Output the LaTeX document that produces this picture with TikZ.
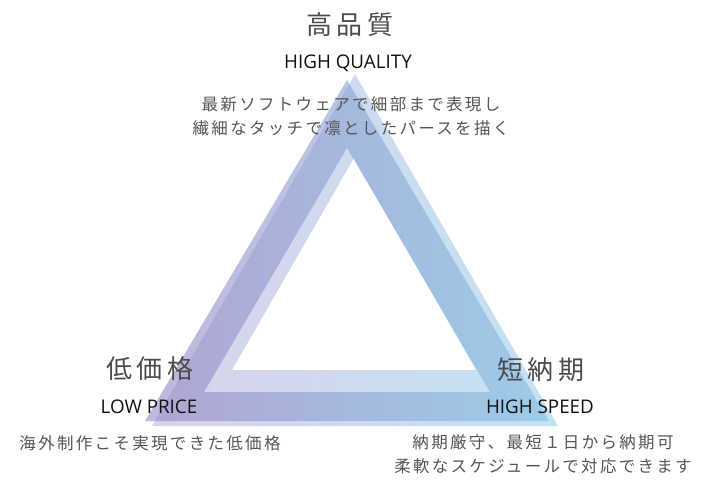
\documentclass[tikz,border=0pt]{standalone}
\usepackage{fontspec}
\newfontfamily\jph{Noto Sans CJK JP}[LetterSpace=16]
\newfontfamily\jpd{Noto Sans CJK JP}[LetterSpace=14]
\newfontfamily\lat{Open Sans}
\definecolor{headgray}{HTML}{4C4C4C}
\definecolor{descgray}{HTML}{555555}
\definecolor{labblack}{HTML}{111111}
\definecolor{lLeft}{HTML}{D9D2EA}
\definecolor{lRight}{HTML}{C2E3F4}
\definecolor{pLeft}{HTML}{9487C3}
\definecolor{pRight}{HTML}{82BDE2}
\tikzset{
  head/.style={inner sep=0pt, text=headgray, font=\jph\fontsize{26}{30}\selectfont},
  lab/.style={inner sep=0pt, text=labblack, font=\lat\fontsize{18.8}{22}\selectfont},
  desc/.style={inner sep=0pt, text=descgray, align=center, font=\jpd\fontsize{16.5}{24}\selectfont},
}
\begin{document}
\begin{tikzpicture}[x=1pt,y=-1pt]
\useasboundingbox (0,0) rectangle (705,490);
% back (light) ring
\shade[even odd rule, left color=lLeft, right color=lRight]
  (355,74) -- (152,426) -- (558,426) -- cycle
  (354,158) -- (232,370) -- (476,370) -- cycle;
% front ring
\shade[even odd rule, left color=pLeft, right color=pRight, fill opacity=0.6]
  (347,80) -- (145,421) -- (549,421) -- cycle
  (347,148) -- (204,392) -- (490,392) -- cycle;
% top
\node[head] (hq) at (350,25) {高品質};
\node[lab] (hqe) at (348,63) {HIGH QUALITY};
\node[desc] (hqd) at (351,116) {最新ソフトウェアで細部まで表現し\\繊細なタッチで凛としたパースを描く};
% left
\node[head] (lp) at (150,369) {低価格};
\node[lab] (lpe) at (149,407) {LOW PRICE};
\node[desc] (lpd) at (150,443) {海外制作こそ実現できた低価格};
% right
\node[head] (hs) at (541,370) {短納期};
\node[lab] (hse) at (540,407) {HIGH SPEED};
\node[desc] (hsd) at (543,454) {納期厳守、最短１日から納期可\\柔軟なスケジュールで対応できます};
\end{tikzpicture}
\end{document}
